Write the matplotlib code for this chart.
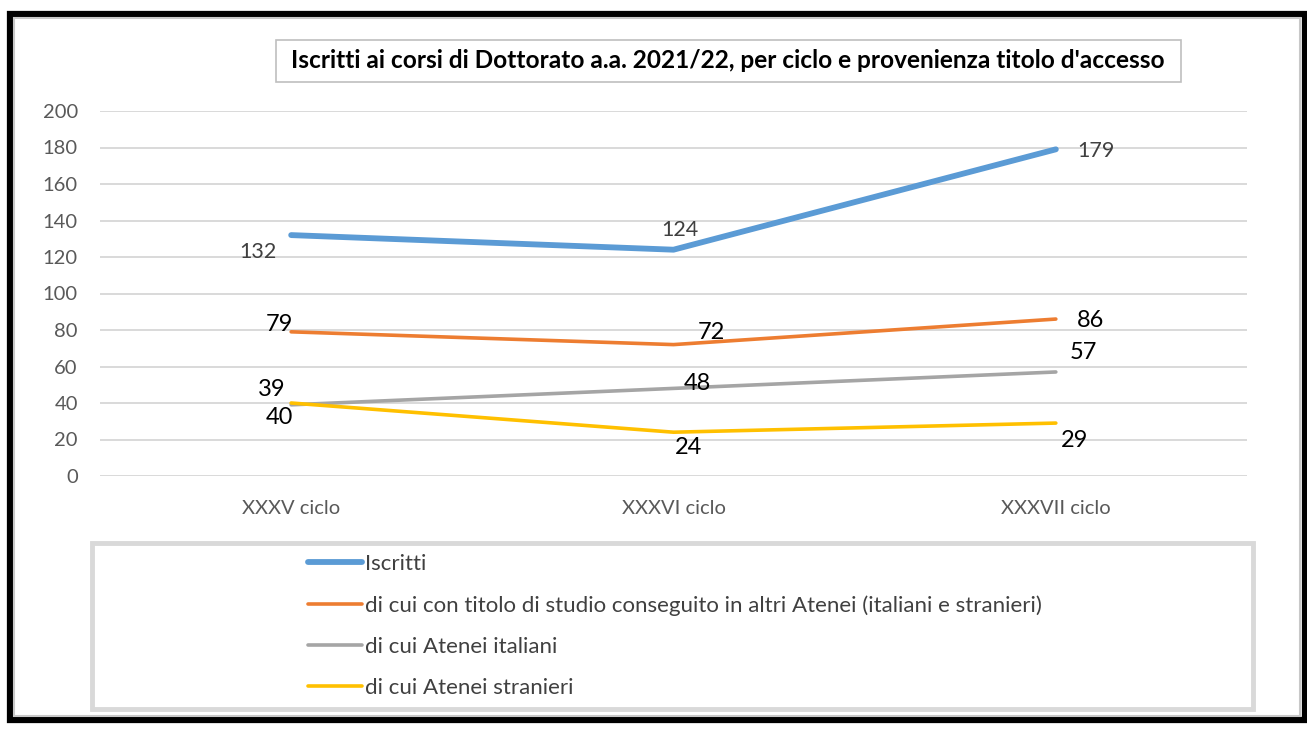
import matplotlib
matplotlib.use("Agg")
import matplotlib.pyplot as plt
from matplotlib.patches import Rectangle

# --- data -------------------------------------------------------------
categories = ["XXXV ciclo", "XXXVI ciclo", "XXXVII ciclo"]
iscritti = [132, 124, 179]
altri_atenei = [79, 72, 86]
atenei_italiani = [39, 48, 57]
atenei_stranieri = [40, 24, 29]

series_labels = [
    "Iscritti",
    "di cui con titolo di studio conseguito in altri Atenei (italiani e stranieri)",
    "di cui Atenei italiani",
    "di cui Atenei stranieri",
]
title = "Iscritti ai corsi di Dottorato a.a. 2021/22, per ciclo e provenienza titolo d'accesso"
y_ticks = [0, 20, 40, 60, 80, 100, 120, 140, 160, 180, 200]

# --- styling ------------------------------------------------------------
plt.rcParams["font.family"] = ["Lato", "DejaVu Sans"]
W, H = 1307, 730
fig = plt.figure(figsize=(W / 100, H / 100), dpi=100)
fig.patch.set_facecolor("white")


def fx(px):
    return px / W


def fy(py):
    return 1 - py / H


# outer black frame with a thin grey inner edge
fig.add_artist(Rectangle((fx(10), fy(720)), fx(1295), (720 - 14) / H,
                         transform=fig.transFigure, fill=False,
                         edgecolor="black", lw=4.5, zorder=0))
fig.add_artist(Rectangle((fx(14), fy(716)), fx(1286), (716 - 18) / H,
                         transform=fig.transFigure, fill=False,
                         edgecolor="#c8c8c8", lw=1.5, zorder=0))

# title box
fig.add_artist(Rectangle((fx(276), fy(82)), fx(1181 - 276), (82 - 40) / H,
                         transform=fig.transFigure, facecolor="white",
                         edgecolor="#bfbfbf", lw=1.2, zorder=1))
fig.text(fx(728), fy(61), title, ha="center", va="center",
         fontsize=17.6, fontweight="bold", color="black", zorder=2)

# plot area
ax = fig.add_axes([fx(100), fy(476), fx(1247 - 100), (476 - 111) / H])
x = list(range(len(categories)))

colors = ["#5B9BD5", "#ED7D31", "#A5A5A5", "#FFC000"]
widths = [4.2, 2.6, 2.6, 2.6]
series = [iscritti, altri_atenei, atenei_italiani, atenei_stranieri]
handles = []
for vals, c, lw, lab in zip(series, colors, widths, series_labels):
    (ln,) = ax.plot(x, vals, color=c, lw=lw, solid_capstyle="round",
                    solid_joinstyle="round", label=lab, zorder=3)
    handles.append(ln)

ax.set_xlim(-0.5, len(categories) - 0.5)
ax.set_ylim(0, 200)
ax.set_yticks(y_ticks)
ax.set_xticks(x)
ax.set_xticklabels(categories)
ax.tick_params(axis="both", length=0, colors="#595959")
ax.tick_params(axis="y", labelsize=14.5, pad=16)
ax.tick_params(axis="x", labelsize=14.5, pad=17)
ax.grid(axis="y", color="#d9d9d9", lw=1.4)
ax.set_axisbelow(True)
for s in ax.spines.values():
    s.set_visible(False)

# data labels (offsets in pixels from each point)
label_offsets = [
    [(-33, -17), (6, 20), (40, -2)],
    [(-12, 7), (38, 12), (35, -1)],
    [(-19, 15), (24, 5), (28, 19)],
    [(-12, -14), (15, -15), (19, -17)],
]
label_styles = [("#404040", 15.5), ("black", 17), ("black", 17), ("black", 17)]
for vals, offs, (col, fs) in zip(series, label_offsets, label_styles):
    for xi, v, (dx, dy) in zip(x, vals, offs):
        ax.annotate(str(v), (xi, v), xytext=(dx, dy), textcoords="offset pixels",
                    ha="center", va="center", color=col, fontsize=fs, zorder=4)

# legend box
fig.add_artist(Rectangle((fx(92), fy(709)), fx(1253 - 92), (709 - 543) / H,
                         transform=fig.transFigure, facecolor="white",
                         edgecolor="#d9d9d9", lw=3.5, zorder=1))
leg = fig.legend(handles=handles, loc="upper left",
                 bbox_to_anchor=(fx(299), fy(545)), frameon=False,
                 fontsize=16, handlelength=2.45, handletextpad=0.1,
                 labelspacing=0.95, borderaxespad=0)
for t in leg.get_texts():
    t.set_color("#404040")
leg.set_zorder(2)

fig.savefig("out.png", dpi=100, facecolor="white")
